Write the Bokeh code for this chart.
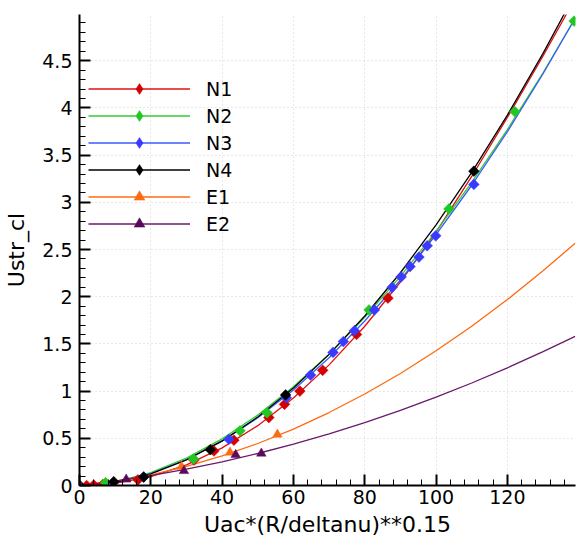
import math
from bokeh.plotting import figure
from bokeh.models import (Legend, LegendItem, FixedTicker, CustomJSTickFormatter, Range1d)
from bokeh.embed import file_html
from bokeh.resources import INLINE

# ---------------- data ----------------
series_names = ["N1", "N2", "N3", "N4", "E1", "E2"]

# fitted curves
x_fit = [0, 10, 20, 30, 40, 50, 60, 70, 80, 90, 100, 110, 120, 130, 139]
N1_fit = [0, 0.022, 0.094, 0.219, 0.399, 0.634, 0.927, 1.278, 1.687, 2.156, 2.685, 3.274, 3.900, 4.550, 5.16]
N2_fit = [0, 0.038, 0.137, 0.290, 0.494, 0.746, 1.046, 1.391, 1.781, 2.215, 2.692, 3.211, 3.771, 4.373, 4.95]
N3_fit = [0, 0.034, 0.127, 0.273, 0.470, 0.717, 1.012, 1.354, 1.743, 2.177, 2.657, 3.181, 3.749, 4.362, 4.95]
N4_fit = [0, 0.033, 0.124, 0.271, 0.472, 0.726, 1.032, 1.389, 1.796, 2.254, 2.762, 3.318, 3.924, 4.578, 5.21]
E1_fit = [0, 0.046, 0.113, 0.202, 0.313, 0.445, 0.598, 0.773, 0.969, 1.187, 1.427, 1.688, 1.970, 2.274, 2.566]
E2_fit = [0, 0.047, 0.105, 0.173, 0.251, 0.339, 0.438, 0.547, 0.666, 0.796, 0.936, 1.086, 1.247, 1.418, 1.58]

# measured points
N1_x = [0, 2, 4, 6.5, 16.4, 32.1, 37.7, 43.3, 53.1, 57.5, 61.8, 68.2, 77.7, 86.5]
N1_y = [0, 0.0, 0.005, 0.01, 0.06, 0.27, 0.366, 0.48, 0.72, 0.86, 1.0, 1.22, 1.60, 1.985]
N2_x = [0, 7.3, 32.0, 45.0, 52.6, 81.2, 103.6, 122.1, 138.7]
N2_y = [0, 0.03, 0.28, 0.58, 0.77, 1.86, 2.93, 3.96, 4.92]
N3_x = [0, 9.5, 18.0, 41.9, 58.0, 64.8, 71.1, 74.0, 77.1, 82.7, 87.7, 90.2, 92.7, 95.2, 97.5, 99.9, 110.6]
N3_y = [0, 0.03, 0.09, 0.49, 0.93, 1.17, 1.41, 1.525, 1.64, 1.86, 2.10, 2.21, 2.32, 2.42, 2.54, 2.645, 3.19]
N4_x = [0, 9.6, 18.0, 36.7, 57.8, 110.6]
N4_y = [0, 0.04, 0.09, 0.38, 0.96, 3.33]
E1_x = [0, 28.6, 42.2, 55.5]
E1_y = [0, 0.20, 0.35, 0.54]
E2_x = [0, 13.1, 29.3, 43.8, 51.0]
E2_y = [0, 0.065, 0.155, 0.325, 0.34]

x_ticks = [0, 20, 40, 60, 80, 100, 120]
y_ticks = [0, 0.5, 1, 1.5, 2, 2.5, 3, 3.5, 4, 4.5]

# ---------------- styling ----------------
colors = ["#d40000", "#22c822", "#3a3aff", "#000000", "#ff6a10", "#5a0a5a"]
line_colors = ["#e01010", "#30cc30", "#3a5aff", "#000000", "#ff6a10", "#6a1a6a"]
markers = ["square", "square", "square", "square", "triangle", "triangle"]
fits = [N1_fit, N2_fit, N3_fit, N4_fit, E1_fit, E2_fit]
pts = [(N1_x, N1_y), (N2_x, N2_y), (N3_x, N3_y), (N4_x, N4_y), (E1_x, E1_y), (E2_x, E2_y)]

FONT = "DejaVu Sans"
NAN = float("nan")

p = figure(width=576, height=543, output_backend="svg", toolbar_location=None,
           x_range=Range1d(0, 139.1), y_range=Range1d(0, 4.99),
           min_border_left=79, min_border_right=1, min_border_top=14, min_border_bottom=58)
p.outline_line_color = None
p.background_fill_color = "white"
p.border_fill_color = "white"

line_rs = []
for i, name in enumerate(series_names):
    r = p.line(x_fit, fits[i], line_color=line_colors[i], line_width=1.3)
    line_rs.append(r)

scat_rs = []
legend_marks = []
for i, name in enumerate(series_names):
    xs, ys = pts[i]
    if markers[i] == "square":
        r = p.scatter(xs, ys, marker="square", size=7.6, angle=math.pi / 4,
                      fill_color=colors[i], line_color=colors[i], line_width=0.5)
        # legend-only swatch (no visible data)
        lm = p.scatter(x=[NAN], y=[NAN], marker="diamond", size=11.5,
                       fill_color=colors[i], line_color=colors[i], line_width=0.5)
    else:
        r = p.scatter(xs, ys, marker="triangle", size=9.5,
                      fill_color=colors[i], line_color=colors[i], line_width=0.5)
        lm = r
    scat_rs.append(r)
    legend_marks.append(lm)

# axes
xt = FixedTicker(ticks=x_ticks, minor_ticks=[v * 4 for v in range(0, 35)])
yt = FixedTicker(ticks=y_ticks, minor_ticks=[v / 10 for v in range(0, 50)])
p.xaxis.ticker = xt
p.yaxis.ticker = yt
fmt = "return String(Math.round(tick*10)/10);"
p.xaxis.formatter = CustomJSTickFormatter(code=fmt)
p.yaxis.formatter = CustomJSTickFormatter(code=fmt)
p.xgrid.ticker = xt
p.ygrid.ticker = yt
for g in (p.xgrid, p.ygrid):
    g.grid_line_color = "#d0d0d0"
    g.grid_line_dash = "1 3"
    g.grid_line_width = 1

for ax in (p.xaxis, p.yaxis):
    ax.axis_line_width = 2
    ax.axis_line_color = "black"
    ax.major_tick_in = 11
    ax.major_tick_out = 0
    ax.minor_tick_in = 6
    ax.minor_tick_out = 0
    ax.major_tick_line_width = 2
    ax.minor_tick_line_width = 1
    ax.major_label_text_font = FONT
    ax.major_label_text_font_size = "19px"
    ax.major_label_text_color = "black"
    ax.axis_label_text_font = FONT
    ax.axis_label_text_font_size = "22px"
    ax.axis_label_text_font_style = "normal"
    ax.axis_label_text_color = "black"

p.xaxis.axis_label = "Uac*(R/deltanu)**0.15"
p.yaxis.axis_label = "Ustr_cl"
p.xaxis.major_label_standoff = 4
p.xaxis.axis_label_standoff = 5
p.yaxis.major_label_standoff = 7
p.yaxis.axis_label_standoff = 10

items = [LegendItem(label=name, renderers=[line_rs[i], legend_marks[i]]) for i, name in enumerate(series_names)]
legend = Legend(items=items, location=(9, 248), glyph_width=102, glyph_height=27,
                label_standoff=16, spacing=0, padding=0, margin=0,
                border_line_color=None, background_fill_alpha=0,
                label_text_font=FONT, label_text_font_size="19px", label_text_color="black")
p.add_layout(legend)

open("out.html", "w").write(file_html(p, INLINE))
